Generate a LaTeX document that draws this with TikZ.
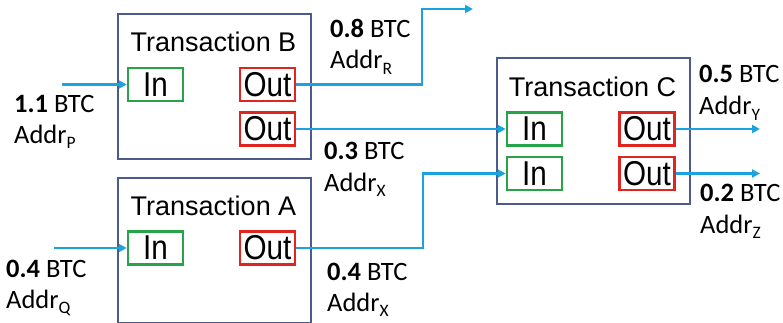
\documentclass[tikz,border=0pt]{standalone}
\usepackage{fontspec}
\setmainfont{Carlito}
\newfontfamily\titlefont{Liberation Sans}
\newfontfamily\portfont[FakeStretch=0.86]{Liberation Sans}
\usetikzlibrary{arrows.meta}
\definecolor{flowc}{HTML}{1BA3E0}
\definecolor{boxc}{HTML}{4A5B8C}
\definecolor{inc}{HTML}{27A34A}
\definecolor{outc}{HTML}{E02420}
\newcommand{\sbs}[1]{\raisebox{-0.22em}{\fontsize{17.5}{17.5}\selectfont #1}}
\begin{document}
\begin{tikzpicture}[x=1pt,y=-1pt,
  txbox/.style={draw=boxc, line width=1.6pt, minimum width=193pt, minimum height=145pt, inner sep=0pt, anchor=north west},
  ttl/.style={anchor=base, inner sep=0pt, font=\titlefont\fontsize{27}{27}\selectfont},
  port/.style={line width=2.5pt, minimum width=55pt, minimum height=33pt, inner sep=0pt, font=\portfont\fontsize{34.5}{34.5}\selectfont},
  inport/.style={port, draw=inc},
  outport/.style={port, draw=outc},
  flow/.style={draw=flowc, line width=2.4pt, -{Triangle[length=8pt,width=8pt]}},
  lbl/.style={anchor=base west, inner sep=0pt, font=\fontsize{26.5}{26.5}\selectfont}]
\useasboundingbox (0,0) rectangle (783,323);
% transaction boxes
\node[txbox] (txB) at (117,13) {};
\node[txbox] (txA) at (117,177) {};
\node[txbox, minimum height=146pt] (txC) at (496,57) {};
\node[ttl] (tB) at (213.5,52) {Transaction B};
\node[ttl] (tA) at (213.5,215) {Transaction A};
\node[ttl] (tC) at (592.5,97) {Transaction C};
% ports
\node[inport] (inB) at (155.5,84.5) {In};
\node[outport] (outB1) at (267.5,84.5) {Out};
\node[outport] (outB2) at (267.5,129) {Out};
\node[inport] (inA) at (155.5,248) {In};
\node[outport] (outA) at (267.5,248) {Out};
\node[inport] (inC1) at (534.5,129) {In};
\node[inport] (inC2) at (534.5,173.5) {In};
\node[outport] (outC1) at (647,129) {Out};
\node[outport] (outC2) at (647,173.5) {Out};
% free ends and bends
\coordinate (sP) at (62,84.5);
\coordinate (sQ) at (54,248);
\coordinate (kB) at (422,9);
\coordinate (eR) at (473,9);
\coordinate (kA) at (423,173.5);
\coordinate (eY) at (760,129);
\coordinate (eZ) at (760,173.5);
% connectors
\draw[flow] (sP) -- (inB.west);
\draw[flow] (sQ) -- (inA.west);
\draw[flow] (outB1.east) -| (kB) -- (eR);
\draw[flow] (outB2.east) -- (inC1.west);
\draw[flow] (outA.east) -| (kA) -- (inC2.west);
\draw[flow] (outC1.east) -- (eY);
\draw[flow] (outC2.east) -- (eZ);
% labels
\node[lbl] (lP1) at (14,113) {\textbf{1.1} BTC};
\node[lbl] (lP2) at (14,143) {Addr\sbs{P}};
\node[lbl] (lQ1) at (6,277) {\textbf{0.4} BTC};
\node[lbl] (lQ2) at (6,308) {Addr\sbs{Q}};
\node[lbl] (lR1) at (330,38) {\textbf{0.8} BTC};
\node[lbl] (lR2) at (330,69) {Addr\sbs{R}};
\node[lbl] (lX1) at (324,160) {\textbf{0.3} BTC};
\node[lbl] (lX2) at (324,191) {Addr\sbs{X}};
\node[lbl] (lX3) at (327,280) {\textbf{0.4} BTC};
\node[lbl] (lX4) at (327,311) {Addr\sbs{X}};
\node[lbl] (lY1) at (699,83) {\textbf{0.5} BTC};
\node[lbl] (lY2) at (699,115) {Addr\sbs{Y}};
\node[lbl] (lZ1) at (700,201) {\textbf{0.2} BTC};
\node[lbl] (lZ2) at (700,233) {Addr\sbs{Z}};
\end{tikzpicture}
\end{document}
